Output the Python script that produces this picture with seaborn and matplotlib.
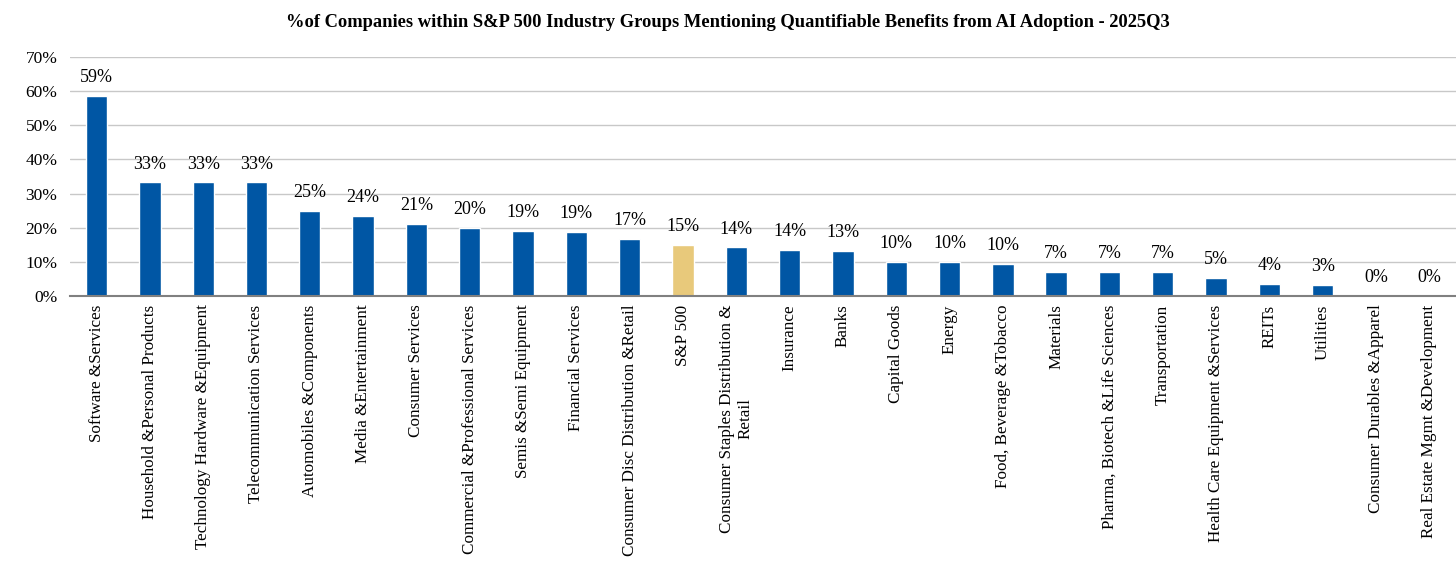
import pandas as pd
import numpy as np
import seaborn as sns
import matplotlib.pyplot as plt

# ------------------- DATA -------------------

groups = [
    "Software &Services", "Household &Personal Products",
    "Technology Hardware &Equipment", "Telecommunication Services",
    "Automobiles &Components", "Media &Entertainment", "Consumer Services",
    "Commercial &Professional Services", "Semis &Semi Equipment",
    "Financial Services", "Consumer Disc Distribution &Retail", "S&P 500",
    "Consumer Staples Distribution &\nRetail", "Insurance", "Banks",
    "Capital Goods", "Energy", "Food, Beverage &Tobacco", "Materials",
    "Pharma, Biotech &Life Sciences", "Transportation",
    "Health Care Equipment &Services", "REITs", "Utilities",
    "Consumer Durables &Apparel", "Real Estate Mgmt &Development",
]
pct = [58.6, 33.3, 33.3, 33.3, 25.0, 23.5, 21.1, 20.0, 19.0, 18.8, 16.7, 15.0,
       14.3, 13.6, 13.3, 10.0, 10.0, 9.5, 7.1, 7.1, 7.1, 5.4, 3.6, 3.3, 0.0, 0.0]

df = pd.DataFrame({"group": groups, "pct": pct})
df["kind"] = np.where(df["group"] == "S&P 500", "index", "sector")

# ------------------- PLOT -------------------

sns.set_style("white")
plt.rcParams["font.family"] = ["Liberation Serif", "DejaVu Serif"]
plt.rcParams["text.color"] = "black"
plt.rcParams["xtick.color"] = "black"
plt.rcParams["ytick.color"] = "black"

fig = plt.figure(figsize=(14.56, 5.76), dpi=100)
ax = fig.add_axes([0.048, 0.486, 0.952, 0.415])

sns.barplot(data=df, x="group", y="pct", hue="kind",
            palette={"sector": "#0056A4", "index": "#E8C97B"},
            saturation=1, width=0.4, dodge=False, legend=False, ax=ax)

for cont in ax.containers:
    ax.bar_label(cont, labels=[f"{v:.0f}%" for v in cont.datavalues],
                 padding=7, fontsize=13, color="black")

ax.set_ylim(0, 70)
ax.set_xlim(-0.5, len(groups) - 0.5)
ax.set_yticks(range(0, 71, 10))
ax.set_yticklabels([f"{t}%" for t in range(0, 71, 10)], fontsize=12.5)
ax.yaxis.grid(True, color="#C8C8C8", linewidth=1)
ax.set_axisbelow(True)
ax.tick_params(axis="x", labelrotation=90, labelsize=12.3, length=0, pad=6)
ax.tick_params(axis="y", length=0, pad=9)
for lbl in ax.get_xticklabels():
    lbl.set_verticalalignment("top")
ax.set_xlabel("")
ax.set_ylabel("")
for side in ["top", "right", "left"]:
    ax.spines[side].set_visible(False)
ax.spines["bottom"].set_color("#808080")
ax.spines["bottom"].set_linewidth(1.5)

fig.suptitle("%of Companies within S&P 500 Industry Groups Mentioning Quantifiable Benefits from AI Adoption - 2025Q3",
             x=0.5, y=0.975, fontsize=13.3, fontweight="bold", color="black")

fig.savefig("out.png", dpi=100)
